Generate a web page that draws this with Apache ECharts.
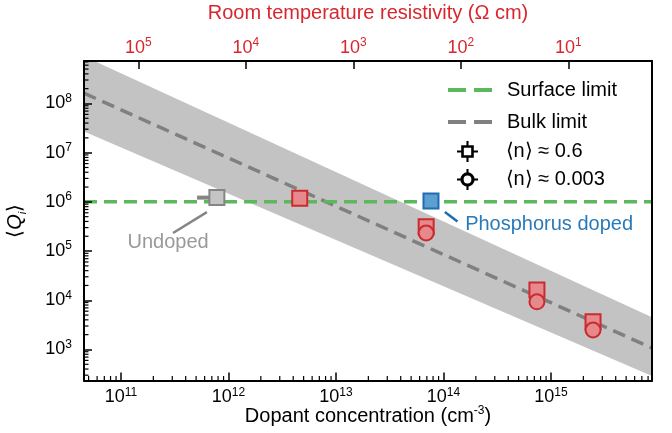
<!DOCTYPE html>
<html>
<head>
<meta charset="utf-8">
<script src="https://cdn.jsdelivr.net/npm/echarts@6/dist/echarts.min.js"></script>
<style>
  html, body { margin: 0; padding: 0; background: #fff; }
  #chart { width: 672px; height: 433px; }
</style>
</head>
<body>
<div id="chart"></div>
<script>
// axis extents: dopant concentration (cm^-3) and <Qi>
var nMin = 4.53e10, nMax = 8.7e15;
var qMin = 2.34e2, qMax = 7.3e8;
// room temperature resistivity ~ rhoK / N
var rhoK = 1.45e16;

var surfaceN = [nMin, nMax];
var surfaceQ = [1.0e6, 1.0e6];

var bulkN = [nMin, nMax];
var bulkQ = [1.62e8, 1.07e3];

var bandN = [nMin, nMax];
var bandUpper = [9.1e8, 4.5e3];
var bandLower = [2.7e7, 2.9e2];

// <n> ~ 0.6 (squares) and <n> ~ 0.003 (circles), boron doped
var squareN = [4.6e12, 6.9e13, 7.4e14, 2.46e15];
var squareQ = [1.18e6, 3.13e5, 1.62e4, 3.67e3];
var squareQLow = [8.4e5, null, null, null];
var circleN = [6.9e13, 7.4e14, 2.46e15];
var circleQ = [2.33e5, 9.3e3, 2.49e3];

var undopedN = [7.8e11];
var undopedQ = [1.22e6];
var undopedNLow = [5.1e11];

var phosN = [7.65e13];
var phosQ = [1.04e6];

var fontFamily = "'Liberation Sans', Arial, Helvetica, sans-serif";
var red = '#d9262e';

function pairs(xs, ys) {
  return xs.map(function (x, i) { return [x, ys[i]]; });
}

function powLabel(value) {
  return '{b|10}{s|' + Math.round(Math.log10(value)) + '}';
}

function powRich(color) {
  return {
    b: { fontSize: 18, fontFamily: fontFamily, color: color, lineHeight: 22 },
    s: { fontSize: 12, fontFamily: fontFamily, color: color, lineHeight: 12, verticalAlign: 'top' }
  };
}

// minor ticks at 2..9 x 10^k
function minorValues(lo, hi, e0, e1) {
  var out = [];
  for (var e = e0; e <= e1; e++) {
    for (var m = 2; m <= 9; m++) {
      var v = m * Math.pow(10, e);
      if (v > lo && v < hi) out.push(v);
    }
  }
  return out;
}
var minorX = minorValues(nMin, nMax, 10, 15);
var minorY = minorValues(qMin, qMax, 2, 8);

var squareIcon = 'path://M9,0L11,0L11,4L16,4L16,9L20,9L20,11L16,11L16,16L11,16L11,20L9,20L9,16L4,16L4,11L0,11L0,9L4,9L4,4L9,4Z' +
  'M6.5,6.5L6.5,13.5L13.5,13.5L13.5,6.5Z';
var circleIcon = 'path://M3.2,10A6.8,6.8,0,0,1,16.8,10A6.8,6.8,0,0,1,3.2,10Z' +
  'M6.3,10A3.7,3.7,0,0,0,13.7,10A3.7,3.7,0,0,0,6.3,10Z' +
  'M9,0L11,0L11,4L9,4Z M9,16L11,16L11,20L9,20Z M0,9L4,9L4,11L0,11Z M16,9L20,9L20,11L16,11Z';

var chart = echarts.init(document.getElementById('chart'));

chart.setOption({
  animation: false,
  backgroundColor: '#fff',
  textStyle: { fontFamily: fontFamily },
  grid: { left: 84, right: 20, top: 61, bottom: 52.5, outerBoundsMode: 'none', containLabel: false },
  legend: [
    {
      data: [
        { name: 'Surface limit', itemStyle: { opacity: 0 } },
        { name: 'Bulk limit', itemStyle: { opacity: 0 } }
      ],
      orient: 'vertical',
      left: 446,
      top: 80,
      padding: 0,
      itemWidth: 44,
      itemHeight: 12,
      itemGap: 12,
      selectedMode: false,
      lineStyle: { width: 4, type: [18, 8] },
      textStyle: { fontSize: 20, fontFamily: fontFamily, color: '#000', padding: [0, 0, 0, 10] }
    },
    {
      data: [
        { name: '⟨n⟩ ≈ 0.6', icon: squareIcon, itemStyle: { color: '#000', borderWidth: 0 } },
        { name: '⟨n⟩ ≈ 0.003', icon: circleIcon, itemStyle: { color: '#000', borderWidth: 0 } }
      ],
      orient: 'vertical',
      left: 457,
      top: 141,
      padding: 0,
      itemWidth: 22,
      itemHeight: 21,
      itemGap: 7,
      selectedMode: false,
      formatter: function (name) { return '{sp|}' + name; },
      textStyle: {
        fontSize: 20, fontFamily: fontFamily, color: '#000',
        rich: { sp: { width: 22 } }
      }
    }
  ],
  xAxis: [
    {
      type: 'log',
      position: 'bottom',
      min: nMin,
      max: nMax,
      z: 10,
      axisLine: { lineStyle: { color: '#000', width: 2 } },
      axisTick: { inside: true, length: 8, lineStyle: { color: '#000', width: 1.5 } },
      splitLine: { show: false },
      axisLabel: {
        margin: 6,
        showMinLabel: false,
        showMaxLabel: false,
        formatter: powLabel,
        rich: powRich('#000')
      },
      name: 'Dopant concentration (cm{s|-3})',
      nameLocation: 'middle',
      nameGap: 24,
      nameMoveOverlap: false,
      nameTextStyle: {
        fontSize: 20, fontFamily: fontFamily, color: '#000', lineHeight: 24,
        rich: { s: { fontSize: 12, fontFamily: fontFamily, color: '#000', lineHeight: 12, verticalAlign: 'top' } }
      }
    },
    {
      type: 'log',
      position: 'top',
      inverse: true,
      min: rhoK / nMax,
      max: rhoK / nMin,
      z: 10,
      axisLine: { lineStyle: { color: '#000', width: 2 } },
      axisTick: { inside: true, length: 8, lineStyle: { color: '#000', width: 1.5 } },
      splitLine: { show: false },
      axisLabel: {
        margin: 2,
        showMinLabel: false,
        showMaxLabel: false,
        formatter: powLabel,
        rich: powRich(red)
      },
      name: 'Room temperature resistivity (Ω cm)',
      nameLocation: 'middle',
      nameGap: 38,
      nameTextStyle: { fontSize: 20, fontFamily: fontFamily, color: red }
    }
  ],
  yAxis: [
    {
      type: 'log',
      position: 'left',
      min: qMin,
      max: qMax,
      z: 10,
      axisLine: { lineStyle: { color: '#000', width: 2 } },
      axisTick: { inside: true, length: 8, lineStyle: { color: '#000', width: 1.5 } },
      splitLine: { show: false },
      axisLabel: {
        margin: 12,
        showMinLabel: false,
        showMaxLabel: false,
        formatter: powLabel,
        rich: powRich('#000')
      },
      name: '⟨{q|Q}{i|i}⟩',
      nameLocation: 'middle',
      nameGap: 56,
      nameRotate: 90,
      nameTextStyle: {
        fontSize: 20, fontFamily: fontFamily, color: '#000', lineHeight: 26,
        rich: {
          q: { fontSize: 20, fontStyle: 'italic', fontFamily: fontFamily, color: '#000', lineHeight: 26 },
          i: { fontSize: 11, fontStyle: 'italic', fontFamily: fontFamily, color: '#000', lineHeight: 12, verticalAlign: 'bottom' }
        }
      }
    },
    {
      type: 'log',
      position: 'right',
      min: qMin,
      max: qMax,
      z: 10,
      axisLine: { show: true, lineStyle: { color: '#000', width: 2 } },
      axisTick: { show: false },
      axisLabel: { show: false },
      splitLine: { show: false }
    }
  ],
  series: [
    {
      // shaded bulk-limit band
      type: 'custom',
      name: 'band',
      silent: true,
      clip: true,
      z: 1,
      data: [[bandN[0], bandUpper[0]]],
      renderItem: function (params, api) {
        var pts = [];
        for (var i = 0; i < bandN.length; i++) pts.push(api.coord([bandN[i], bandUpper[i]]));
        for (var j = bandN.length - 1; j >= 0; j--) pts.push(api.coord([bandN[j], bandLower[j]]));
        return { type: 'polygon', shape: { points: pts }, style: { fill: '#c3c3c3' } };
      }
    },
    {
      name: 'Bulk limit',
      type: 'line',
      data: pairs(bulkN, bulkQ),
      symbol: 'none',
      z: 2,
      color: '#808080',
      lineStyle: { color: '#808080', width: 3.5, type: [13, 7] }
    },
    {
      name: 'Surface limit',
      type: 'line',
      data: pairs(surfaceN, surfaceQ),
      symbol: 'none',
      z: 3,
      color: '#5cb85c',
      lineStyle: { color: '#5cb85c', width: 3.5, type: [13, 7] }
    },
    {
      // error bars
      type: 'custom',
      silent: true,
      z: 4,
      data: pairs(undopedN, undopedQ).map(function (d, i) { return [d[0], d[1], undopedNLow[i], d[1]]; })
        .concat(pairs(squareN, squareQ).map(function (d, i) { return [d[0], d[1], d[0], squareQLow[i]]; })
          .filter(function (d) { return d[3] != null; })),
      renderItem: function (params, api) {
        var a = api.coord([api.value(0), api.value(1)]);
        var b = api.coord([api.value(2), api.value(3)]);
        var isGray = params.dataIndex < undopedN.length;
        return {
          type: 'line',
          shape: { x1: a[0], y1: a[1], x2: b[0], y2: b[1] },
          style: { stroke: isGray ? '#858585' : '#cc2a2f', lineWidth: isGray ? 4 : 3 }
        };
      }
    },
    {
      name: 'undoped',
      type: 'scatter',
      data: pairs(undopedN, undopedQ),
      symbol: 'rect',
      symbolSize: 15,
      z: 5,
      itemStyle: { color: '#c5c5c5', borderColor: '#858585', borderWidth: 2, opacity: 1 },
      markLine: {
        silent: true,
        symbol: ['none', 'arrow'],
        symbolSize: [0, 11],
        lineStyle: { color: '#858585', width: 2.5, type: 'solid' },
        label: { show: false },
        data: [[{ coord: [3.05e11, 2.33e5] }, { coord: [6.3e11, 6.2e5] }]]
      },
      markPoint: {
        silent: true,
        symbolSize: 0,
        label: { show: true, formatter: 'Undoped', fontSize: 20, fontFamily: fontFamily, color: '#999' },
        data: [{ coord: [2.74e11, 1.46e5] }]
      }
    },
    {
      name: '⟨n⟩ ≈ 0.6',
      type: 'scatter',
      data: pairs(squareN, squareQ),
      symbol: 'rect',
      symbolSize: 15,
      z: 5,
      itemStyle: { color: '#e6898c', borderColor: '#cc2a2f', borderWidth: 2, opacity: 1 }
    },
    {
      name: '⟨n⟩ ≈ 0.003',
      type: 'scatter',
      data: pairs(circleN, circleQ),
      symbol: 'circle',
      symbolSize: 15,
      z: 6,
      itemStyle: { color: '#e6898c', borderColor: '#cc2a2f', borderWidth: 2, opacity: 1 }
    },
    {
      name: 'phosphorus',
      type: 'scatter',
      data: pairs(phosN, phosQ),
      symbol: 'rect',
      symbolSize: 15,
      z: 6,
      itemStyle: { color: '#5b9fd3', borderColor: '#1f6db0', borderWidth: 2, opacity: 1 },
      markLine: {
        silent: true,
        symbol: ['none', 'arrow'],
        symbolSize: [0, 11],
        lineStyle: { color: '#1f6db0', width: 2.5, type: 'solid' },
        label: { show: false },
        data: [[{ coord: [1.35e14, 4.0e5] }, { coord: [1.03e14, 6.2e5] }]]
      },
      markPoint: {
        silent: true,
        symbolSize: 0,
        label: { show: true, formatter: 'Phosphorus doped', fontSize: 20, fontFamily: fontFamily, color: '#2a7ab8' },
        data: [{ coord: [9.6e14, 3.4e5] }]
      }
    },
    {
      // minor ticks, bottom axis
      type: 'custom',
      silent: true,
      z: 20,
      data: minorX.map(function (v) { return [v, qMin]; }),
      renderItem: function (params, api) {
        var p = api.coord([api.value(0), api.value(1)]);
        return { type: 'line', shape: { x1: p[0], y1: p[1], x2: p[0], y2: p[1] - 4.5 }, style: { stroke: '#000', lineWidth: 1.2 } };
      }
    },
    {
      // minor ticks, left axis
      type: 'custom',
      silent: true,
      z: 20,
      data: minorY.map(function (v) { return [nMin, v]; }),
      renderItem: function (params, api) {
        var p = api.coord([api.value(0), api.value(1)]);
        return { type: 'line', shape: { x1: p[0], y1: p[1], x2: p[0] + 4.5, y2: p[1] }, style: { stroke: '#000', lineWidth: 1.2 } };
      }
    }
  ]
});
</script>
</body>
</html>
